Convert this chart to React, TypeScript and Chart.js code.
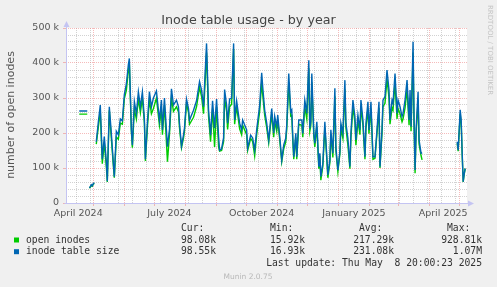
import React, { useEffect, useRef } from 'react';
import { Chart, registerables } from 'chart.js';

Chart.register(...registerables);

const chartTitle = 'Inode table usage - by year';
const yAxisTitle = 'number of open inodes';
const seriesNames = ['open inodes', 'inode table size'];
const seriesColors = ['#00cc00', '#0066b3'];

// day index since 2024-04-01, values in thousands (null = no data)
const days = [
  16, 24, 25,
  26, 27, 28, 29, 30, 31, 32,
  33, 35, 37, 39, 41, 43, 44, 46, 48, 50, 51, 53, 55, 57, 59, 61, 63, 65, 66, 68, 69, 71, 73, 75, 77, 79, 81, 82, 84, 86, 88, 90, 93, 96, 98, 99,
  101, 104, 106, 108, 110, 113, 115, 116, 118, 120, 121, 123, 125, 126, 130, 133, 136, 138, 140, 143, 145, 147, 149, 151, 153, 155, 156, 158, 160,
  161, 163, 164, 166, 168, 170, 171, 173, 176, 178, 179, 183, 184, 187, 189, 191, 193, 196, 198, 199, 201, 203, 205, 208, 210, 211, 213, 214, 216, 218,
  220, 222, 223, 225, 227, 228, 229, 230, 232, 233, 235, 238, 239, 241, 243, 245, 246, 247, 248, 250, 251, 253, 255, 256, 257, 259, 261, 262, 264, 266,
  267, 269, 271, 272, 274, 276, 277, 279, 281, 282, 284, 286, 287, 289, 291, 292, 294, 296, 297, 299, 301, 302, 304, 305, 307, 309, 311, 313, 315, 316,
  318, 319, 321, 323, 325, 326, 328, 329, 331, 333, 334, 336, 338, 339, 341, 343, 345, 346, 347, 349, 350, 351, 352, 354, 355, 357, 358,
  370,
  393, 394, 396, 397, 398, 399, 400, 401,
];

const tableSize = [
  263, 263, null,
  44, 46, 52, 49, 55, 58, null,
  175, 230, 280, 125, 190, 120, 62, 275, 200, 115, 75, 205, 195, 240, 235, 310, 340, 395, 413, 210, 165, 290, 255, 318, 275, 318, 240, 125, 230, 318, 275, 300, 320, 237, 294, 209,
  300, 161, 209, 326, 280, 294, 275, 228, 163, 194, 214, 297, 270, 237, 265, 292, 347, 323, 275, 456, 265, 194, 292, 214, 297, 190, 151, 155, 186,
  324, 280, 228, 297, 300, 456, 237, 292, 228, 209, 237, 209, 157, 194, 186, 151, 209, 280, 372, 333, 265, 228, 180, 270, 200, 247, 218, 251, 190, 123,
  166, 185, 223, 370, 261, 266, 190, 132, 199, 132, 237, 237, 199, 294, 256, 408, 213, 232, 370, 199, 171, 232, 104, 142, 75, 113, 232, 180, 80, 123,
  209, 142, 328, 161, 94, 147, 228, 199, 351, 228, 185, 104, 199, 294, 247, 180, 251, 209, 294, 237, 132, 228, 289, 209, 289, 132, 132, 209, 289, 104,
  209, 294, 304, 380, 323, 237, 294, 285, 370, 256, 294, 275, 247, 256, 294, 351, 237, 323, 218, 461, 237, 94, 209, 318, 180, 142, 144,
  null,
  175, 151, 266, 237, 142, 61, 84, 98.55,
];

const openInodes = [
  254, 254, null,
  43, 45, 50, 48, 54, 56, null,
  168, 215, 262, 112, 172, 105, 60, 265, 185, 108, 72, 188, 182, 228, 225, 298, 322, 378, 398, 205, 158, 268, 240, 298, 258, 300, 228, 120, 215, 295, 255, 270, 300, 222, 270, 195,
  280, 118, 195, 300, 262, 275, 260, 215, 158, 185, 205, 285, 258, 225, 245, 275, 330, 305, 255, 430, 248, 175, 270, 160, 275, 160, 148, 150, 175,
  300, 262, 210, 275, 282, 440, 225, 275, 212, 195, 222, 195, 150, 185, 175, 135, 195, 262, 345, 310, 250, 215, 172, 255, 188, 232, 205, 238, 180, 118,
  155, 175, 210, 345, 248, 250, 180, 125, 188, 125, 225, 222, 188, 275, 240, 385, 205, 220, 345, 190, 160, 218, 98, 135, 65, 105, 215, 170, 72, 115,
  195, 130, 305, 150, 90, 140, 212, 185, 325, 215, 165, 98, 185, 275, 230, 165, 235, 195, 275, 222, 125, 212, 270, 198, 270, 125, 128, 198, 272, 100,
  198, 275, 285, 355, 300, 225, 272, 265, 345, 240, 270, 255, 232, 240, 272, 325, 222, 300, 205, 430, 220, 85, 195, 295, 168, 135, 123,
  null,
  170, 148, 255, 228, 138, 60, 82, 98.08,
];

const xMin = 2.8;
const xMax = 402.8;
const monthStartDays = [30, 61, 91, 122, 153, 183, 214, 244, 275, 306, 334, 365, 395];
const biweeklyDays = [13, 27, 41, 55, 69, 83, 97, 111, 125, 139, 167, 181, 195, 209, 223, 237, 251, 265, 279, 293, 307, 321, 335, 349, 363, 377, 391];
const xLabelDays = [15, 106, 198, 290, 379];
const xLabels = ['April 2024', 'July 2024', 'October 2024', 'January 2025', 'April 2025'];

const yMax = 500;
const yMinorStep = 20;
const yMajorValues = [0, 100, 200, 300, 400, 500];
const yTickLabels = ['0', '100 k', '200 k', '300 k', '400 k', '500 k'];

const legendHeaders = ['Cur:', 'Min:', 'Avg:', 'Max:'];
const legendRows = [
  ['98.08k', '15.92k', '217.29k', '928.81k'],
  ['98.55k', '16.93k', '231.08k', '1.07M'],
];
const lastUpdate = 'Last update: Thu May  8 20:00:23 2025';
const footerText = 'Munin 2.0.75';
const sideText = 'RRDTOOL / TOBI OETIKER';

const MAJOR = 'rgba(235, 120, 120, 0.5)';
const MINOR = 'rgba(165, 165, 165, 0.5)';
const AXIS = '#c4c4f2';

const decorPlugin = {
  id: 'munin-decor',
  beforeDraw(chart: any) {
    const { ctx, chartArea, width, height } = chart;
    ctx.save();
    ctx.fillStyle = '#f0f0f0';
    ctx.fillRect(0, 0, width, height);
    ctx.fillStyle = '#ffffff';
    ctx.fillRect(chartArea.left, chartArea.top, chartArea.right - chartArea.left, chartArea.bottom - chartArea.top);
    ctx.restore();
  },
  afterDraw(chart: any) {
    const { ctx, chartArea } = chart;
    const L = chartArea.left + 0.5;
    const B = chartArea.bottom + 0.5;
    ctx.save();
    // axes
    ctx.strokeStyle = AXIS;
    ctx.lineWidth = 1;
    ctx.beginPath();
    ctx.moveTo(L, B);
    ctx.lineTo(L, chartArea.top - 4);
    ctx.moveTo(L - 2, B);
    ctx.lineTo(chartArea.right + 3, B);
    ctx.stroke();
    ctx.fillStyle = AXIS;
    ctx.beginPath();
    ctx.moveTo(L - 3, chartArea.top - 1);
    ctx.lineTo(L, chartArea.top - 7);
    ctx.lineTo(L + 3, chartArea.top - 1);
    ctx.closePath();
    ctx.fill();
    ctx.beginPath();
    ctx.moveTo(chartArea.right + 1, B - 3);
    ctx.lineTo(chartArea.right + 7, B);
    ctx.lineTo(chartArea.right + 1, B + 3);
    ctx.closePath();
    ctx.fill();

    // title
    ctx.fillStyle = '#444';
    ctx.font = '12.7px "DejaVu Sans"';
    ctx.textAlign = 'center';
    ctx.textBaseline = 'alphabetic';
    ctx.fillText(chartTitle, 248.5, 23.5);

    // y title
    ctx.save();
    ctx.translate(11.5, 115);
    ctx.rotate(-Math.PI / 2);
    ctx.font = '11px "DejaVu Sans"';
    ctx.fillStyle = '#555';
    ctx.textBaseline = 'middle';
    ctx.fillText(yAxisTitle, 0, 0);
    ctx.restore();

    // side text
    ctx.save();
    ctx.translate(489.5, 5);
    ctx.rotate(Math.PI / 2);
    ctx.font = '7px "DejaVu Sans"';
    ctx.fillStyle = '#c4c4c4';
    ctx.textAlign = 'left';
    ctx.textBaseline = 'middle';
    ctx.fillText(sideText, 0, 0);
    ctx.restore();

    // legend
    const mono = '9.7px "DejaVu Sans Mono"';
    ctx.font = mono;
    ctx.fillStyle = '#333';
    ctx.textBaseline = 'middle';
    const valueEnds = [216, 305, 394, 482];
    ctx.textAlign = 'right';
    legendHeaders.forEach((h, i) => ctx.fillText(h, valueEnds[i] - 11.7, 228.5));
    const rowY = [240, 251.7];
    legendRows.forEach((row, r) => {
      ctx.fillStyle = seriesColors[r];
      ctx.fillRect(14, rowY[r] - 2.5, 5, 5);
      ctx.fillStyle = '#333';
      ctx.textAlign = 'left';
      ctx.fillText(seriesNames[r], 26, rowY[r]);
      ctx.textAlign = 'right';
      row.forEach((v, i) => ctx.fillText(v, valueEnds[i], rowY[r]));
    });
    ctx.fillText(lastUpdate, 482, 263.3);

    // footer
    ctx.font = '7.5px "DejaVu Sans"';
    ctx.fillStyle = '#b8b8b8';
    ctx.textAlign = 'center';
    ctx.fillText(footerText, 248, 276.7);
    ctx.restore();
  },
};

const xTickValues = [...monthStartDays, ...biweeklyDays.filter((d) => !monthStartDays.includes(d)), ...xLabelDays].sort((a, b) => a - b);

function xGridColor(v: number) {
  if (monthStartDays.includes(v)) return MAJOR;
  if (biweeklyDays.includes(v)) return MINOR;
  return 'rgba(0,0,0,0)';
}

export default function App() {
  const ref = useRef<HTMLCanvasElement | null>(null);

  useEffect(() => {
    if (!ref.current) return;
    const toPoints = (vals: (number | null)[]) => days.map((d, i) => ({ x: d, y: vals[i] }));
    const chart = new Chart(ref.current, {
      type: 'line',
      data: {
        datasets: [
          {
            label: seriesNames[0],
            data: toPoints(openInodes) as any,
            borderColor: seriesColors[0],
            borderWidth: 1.4,
            pointRadius: 0,
            tension: 0,
            spanGaps: false,
            order: 2,
          },
          {
            label: seriesNames[1],
            data: toPoints(tableSize) as any,
            borderColor: seriesColors[1],
            borderWidth: 1.4,
            pointRadius: 0,
            tension: 0,
            spanGaps: false,
            order: 1,
          },
        ],
      },
      options: {
        animation: false,
        responsive: false,
        devicePixelRatio: 1,
        layout: { padding: { left: 0, top: 28, right: 30, bottom: 0 } },
        plugins: { legend: { display: false }, title: { display: false }, tooltip: { enabled: false } },
        scales: {
          x: {
            type: 'linear',
            min: xMin,
            max: xMax,
            afterBuildTicks: (scale: any) => {
              scale.ticks = xTickValues.map((v) => ({ value: v }));
            },
            afterFit: (scale: any) => {
              scale.height = 84;
            },
            border: { display: false, dash: [1, 1] },
            grid: {
              color: (ctx: any) => xGridColor(ctx.tick?.value),
              tickColor: (ctx: any) => (monthStartDays.includes(ctx.tick?.value) ? MAJOR : 'rgba(0,0,0,0)'),
              lineWidth: 1,
              drawTicks: true,
              tickLength: 3,
            },
            ticks: {
              autoSkip: false,
              maxRotation: 0,
              minRotation: 0,
              padding: 2,
              color: '#555',
              font: { family: 'DejaVu Sans', size: 9.5 },
              callback: (v: any) => {
                const idx = xLabelDays.indexOf(Number(v));
                return idx >= 0 ? xLabels[idx] : '';
              },
            },
          },
          y: {
            type: 'linear',
            min: 0,
            max: yMax,
            afterBuildTicks: (scale: any) => {
              const t = [];
              for (let v = 0; v <= yMax; v += yMinorStep) t.push({ value: v });
              scale.ticks = t;
            },
            afterFit: (scale: any) => {
              scale.width = 66;
            },
            border: { display: false, dash: [1, 1] },
            grid: {
              color: (ctx: any) => (ctx.tick?.value === 0 ? 'rgba(0,0,0,0)' : yMajorValues.includes(ctx.tick?.value) ? MAJOR : MINOR),
              tickColor: (ctx: any) => (yMajorValues.includes(ctx.tick?.value) ? MAJOR : 'rgba(0,0,0,0)'),
              drawTicks: true,
              tickLength: 3,
            },
            ticks: {
              autoSkip: false,
              padding: 4,
              color: '#555',
              font: { family: 'DejaVu Sans', size: 9.5 },
              callback: (v: any) => {
                const idx = yMajorValues.indexOf(Number(v));
                return idx >= 0 ? yTickLabels[idx] : '';
              },
            },
          },
        },
      },
      plugins: [decorPlugin],
    });
    return () => chart.destroy();
  }, []);

  return (
    <div style={{ position: 'fixed', left: 0, top: 0, width: 497, height: 287 }}>
      <canvas ref={ref} width={497} height={287} style={{ display: 'block', width: 497, height: 287 }} />
    </div>
  );
}
